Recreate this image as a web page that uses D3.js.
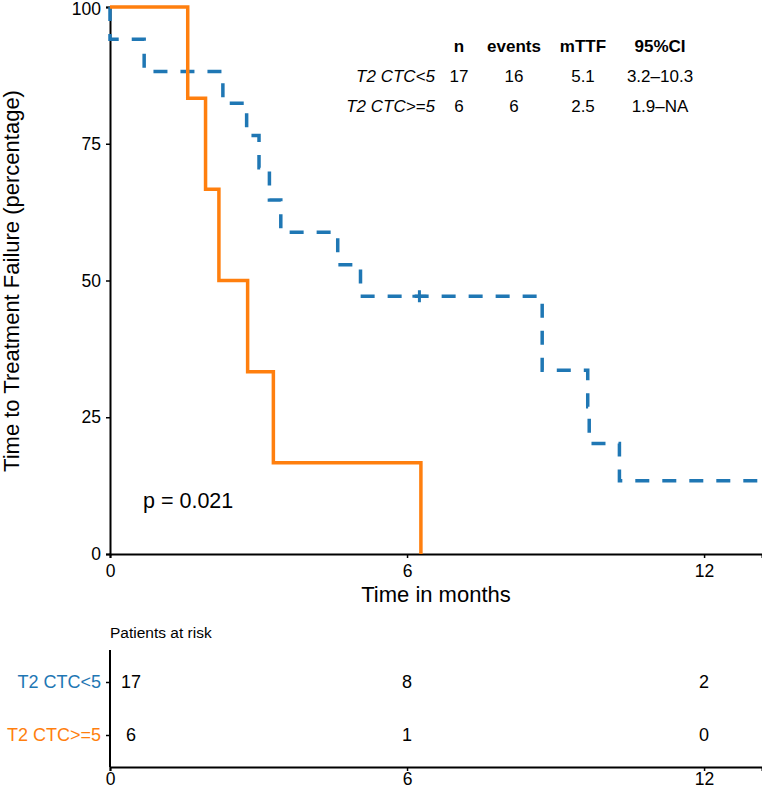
<!DOCTYPE html>
<html>
<head>
<meta charset="utf-8">
<script src="https://cdn.jsdelivr.net/npm/d3@7"></script>
<style>
  body { margin: 0; background: #fff; }
  text { font-family: "Liberation Sans", Arial, Helvetica, sans-serif; }
</style>
</head>
<body>
<script>
// KM curves (time in months, percentage)
var lowTime = [0, 0, 0.69, 2.28, 2.76, 3.01, 3.22, 3.45, 4.6, 5.06, 8.73, 9.65, 9.68, 10.29];
var lowSurv = [100, 94.1, 88.2, 82.4, 76.5, 70.6, 64.7, 58.8, 52.9, 47.1, 33.6, 26.9, 20.2, 13.4];
var highTime = [0, 1.57, 1.93, 2.2, 2.78, 3.3, 6.28];
var highSurv = [100, 83.3, 66.7, 50, 33.3, 16.7, 0];
var censorTime = [6.25];
var censorSurv = [47.1];

var groups = ["T2 CTC<5", "T2 CTC>=5"];
var riskTimes = [0, 6, 12];
var riskLow = [17, 8, 2];
var riskHigh = [6, 1, 0];

var xTicks = [0, 6, 12];
var yTicks = [0, 25, 50, 75, 100];

var tableHeader = ["n", "events", "mTTF", "95%CI"];
var tableLow = ["17", "16", "5.1", "3.2\u201310.3"];
var tableHigh = ["6", "6", "2.5", "1.9\u2013NA"];
var pText = "p = 0.021";

var blue = "#1f77b4", orange = "#ff7f0e";
var xMax = 13.17;

var width = 762, height = 789;

var svg = d3.select("body")
            .append("svg")
            .attr("width", width)
            .attr("height", height);

var x = d3.scaleLinear().domain([0, xMax]).range([110, 762]);
var y = d3.scaleLinear().domain([0, 100]).range([554, 7]);

// axes
var xAxis = svg.append("g")
    .attr("transform", "translate(0,554)")
    .call(d3.axisBottom(x).tickValues(xTicks).tickSize(4).tickPadding(7));
var yAxis = svg.append("g")
    .attr("transform", "translate(110,0)")
    .call(d3.axisLeft(y).tickValues(yTicks).tickSize(4).tickPadding(5));

[xAxis, yAxis].forEach(function(a) {
  a.select(".domain").attr("stroke-width", 2);
  a.selectAll(".tick line").attr("stroke-width", 1.5);
  a.selectAll("text").style("font-size", "17.5px").style("fill", "#000");
});
// keep the top label inside the frame
yAxis.selectAll(".tick text").filter(function(d) { return d === 100; }).attr("dy", "0.45em");

svg.append("text")
    .attr("x", 436).attr("y", 602)
    .attr("text-anchor", "middle")
    .style("font-size", "22px")
    .text("Time in months");

svg.append("text")
    .attr("transform", "translate(19,281) rotate(-90)")
    .attr("text-anchor", "middle")
    .style("font-size", "22px")
    .text("Time to Treatment Failure (percentage)");

// step curves
var line = d3.line()
    .x(function(d) { return x(d[0]); })
    .y(function(d) { return y(d[1]); })
    .curve(d3.curveStepAfter);

var lowPts = lowTime.map(function(t, i) { return [t, lowSurv[i]]; });
lowPts.push([xMax, lowSurv[lowSurv.length - 1]]);
var highPts = highTime.map(function(t, i) { return [t, highSurv[i]]; });

svg.append("path")
    .datum(lowPts)
    .attr("d", line)
    .attr("fill", "none")
    .attr("stroke", blue)
    .attr("stroke-width", 3.5)
    .attr("stroke-dasharray", "14,13");

svg.append("path")
    .datum(highPts)
    .attr("d", line)
    .attr("fill", "none")
    .attr("stroke", orange)
    .attr("stroke-width", 3.5);

// censor marks
censorTime.forEach(function(t, i) {
  var cx = x(t), cy = y(censorSurv[i]);
  svg.append("path")
      .attr("d", "M" + (cx - 7) + "," + cy + "H" + (cx + 7) + "M" + cx + "," + (cy - 6) + "V" + (cy + 6))
      .attr("stroke", blue)
      .attr("stroke-width", 3);
});

// summary table
var colX = [459, 514, 583, 660];
var tbl = svg.append("g").style("font-size", "17px");
tableHeader.forEach(function(h, i) {
  tbl.append("text").attr("x", colX[i]).attr("y", 52)
     .attr("text-anchor", "middle").style("font-weight", "bold").text(h);
});
[tableLow, tableHigh].forEach(function(row, r) {
  var ty = 82 + r * 30;
  tbl.append("text").attr("x", 435).attr("y", ty)
     .attr("text-anchor", "end").style("font-style", "italic").text(groups[r]);
  row.forEach(function(v, i) {
    tbl.append("text").attr("x", colX[i]).attr("y", ty)
       .attr("text-anchor", "middle").text(v);
  });
});

svg.append("text")
    .attr("x", 143).attr("y", 508)
    .style("font-size", "21.5px")
    .text(pText);

// patients at risk table
svg.append("text")
    .attr("x", 110).attr("y", 638)
    .style("font-size", "15.5px")
    .text("Patients at risk");

var rxAxis = svg.append("g")
    .attr("transform", "translate(0,767)")
    .call(d3.axisBottom(x).tickValues(xTicks).tickSize(4).tickPadding(2));
rxAxis.select(".domain").attr("stroke-width", 2);
rxAxis.selectAll(".tick line").attr("stroke-width", 1.5);
rxAxis.selectAll("text").style("font-size", "17.5px").style("fill", "#000");

var ry = d3.scalePoint().domain(groups).range([682, 735]);
var ryAxis = svg.append("g")
    .attr("transform", "translate(110,0)")
    .call(d3.axisLeft(ry).tickSize(4).tickPadding(5));
ryAxis.select(".domain").attr("d", "M0,650V767").attr("stroke-width", 2);
ryAxis.selectAll(".tick line").attr("stroke-width", 1.5);
ryAxis.selectAll("text")
    .style("font-size", "18px")
    .style("fill", function(d, i) { return i === 0 ? blue : orange; });

[riskLow, riskHigh].forEach(function(vals, r) {
  svg.append("g").selectAll("text")
      .data(vals)
    .enter().append("text")
      .attr("x", function(d, i) { return x(riskTimes[i]) + (riskTimes[i] === 0 ? 21 : 0); })
      .attr("y", ry(groups[r]))
      .attr("dy", "0.35em")
      .attr("text-anchor", "middle")
      .style("font-size", "18px")
      .style("fill", "#000")
      .text(function(d) { return d; });
});
</script>
</body>
</html>
